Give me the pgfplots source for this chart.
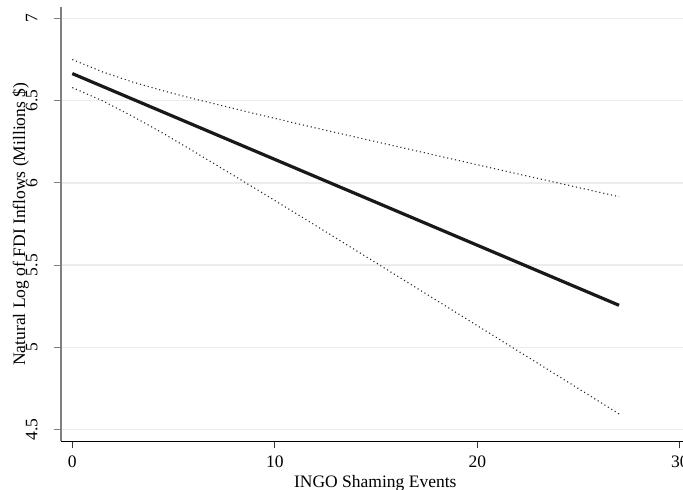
\documentclass[border=0pt]{standalone}
\usepackage{pgfplots}
\pgfplotsset{compat=1.18}
\usepackage{fontspec}
\setmainfont{Liberation Serif}
\definecolor{gridc}{HTML}{ECECEC}
\definecolor{yaxc}{HTML}{808080}
\begin{document}
\begin{tikzpicture}[x=1pt,y=1pt,font=\fontsize{17.5}{21}\selectfont]
\begin{axis}[
  at={(60.7pt,48.7pt)}, anchor=south west,
  scale only axis, width=629.2pt, height=434pt,
  xmin=-0.573, xmax=30.5, ymin=4.4295, ymax=7.0668,
  enlargelimits=false,
  axis lines=left,
  x axis line style={-, black, line width=1.3pt},
  y axis line style={-, yaxc, line width=2pt},
  tick align=outside, major tick length=7pt,
  xtick={0,10,20,30}, ytick={4.5,5,5.5,6,6.5,7},
  xtick style={black!80, line width=1.2pt},
  ytick style={yaxc, line width=1.2pt},
  /pgf/number format/assume math mode=true,
  yticklabel style={rotate=90, anchor=south, inner sep=0pt},
  yticklabel shift=16pt,
  xticklabel style={anchor=north, inner sep=0pt},
  xticklabel shift=7pt,
  ymajorgrids, grid style={gridc, line width=1.5pt},
  xlabel={INGO Shaming Events},
  ylabel={Natural Log of FDI Inflows (Millions \$)},
  xlabel style={at={(axis description cs:0.5,-0.1073)}, anchor=base, inner sep=0pt},
  ylabel style={at={(axis description cs:-0.0567,0.5)}, rotate=0, anchor=base, inner sep=0pt},
]
\addplot[black!90, line width=3.2pt] coordinates {(0,6.664) (27,5.256)};
\addplot[black!85, line width=1.1pt, dash pattern=on 1.1pt off 2.9pt] coordinates {
(0,6.749) (1.5,6.674) (3,6.612) (4.5,6.559) (6,6.511) (9,6.421) (12,6.334) (15,6.250) (18,6.166) (21,6.082) (24,5.999) (27,5.916)};
\addplot[black!85, line width=1.1pt, dash pattern=on 1.1pt off 2.9pt] coordinates {
(0,6.579) (1.5,6.498) (3,6.403) (4.5,6.300) (6,6.191) (9,5.968) (12,5.742) (15,5.514) (18,5.285) (21,5.056) (24,4.826) (27,4.596)};
\end{axis}
\pgfresetboundingbox
\path (0,0) rectangle (683,490);
\end{tikzpicture}
\end{document}
